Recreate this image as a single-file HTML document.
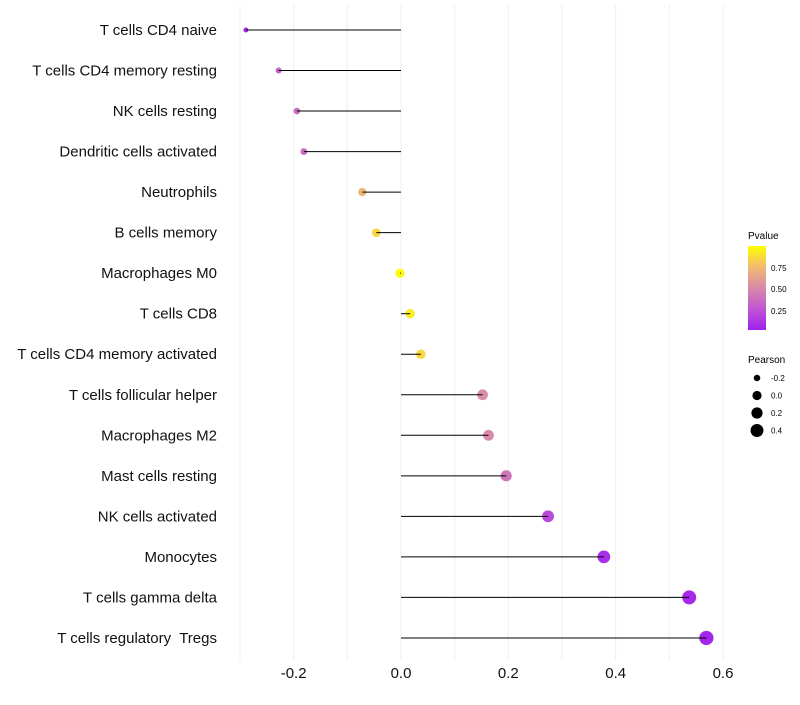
<!DOCTYPE html>
<html><head><meta charset="utf-8"><style>
body{margin:0;background:#fff;font-family:"Liberation Sans",sans-serif}
text{white-space:pre}
</style></head><body>
<svg id="chart" width="800" height="700" xmlns="http://www.w3.org/2000/svg" font-family="Liberation Sans, sans-serif">
<g id="grid"></g>
<g id="marks"></g>
<g id="ylabels"></g>
<g id="xlabels"></g>
<g>
<text x="748" y="239" font-size="10">Pvalue</text>
<defs><linearGradient id="pg" x1="0" y1="1" x2="0" y2="0">
<stop offset="0" stop-color="#A020F0"/><stop offset="0.25" stop-color="#C055D2"/><stop offset="0.5" stop-color="#D88AA8"/><stop offset="0.75" stop-color="#F2BA72"/><stop offset="1" stop-color="#FFFF00"/></linearGradient></defs>
<rect x="748" y="246" width="18" height="84" fill="url(#pg)"/>
<text x="771" y="271" font-size="8">0.75</text>
<text x="771" y="292" font-size="8">0.50</text>
<text x="771" y="314" font-size="8">0.25</text>
</g>
<g id="sizeleg">
<text x="748" y="363" font-size="10">Pearson</text>
</g>
</svg>
<script>
const categories=["T cells CD4 naive","T cells CD4 memory resting","NK cells resting","Dendritic cells activated","Neutrophils","B cells memory","Macrophages M0","T cells CD8","T cells CD4 memory activated","T cells follicular helper","Macrophages M2","Mast cells resting","NK cells activated","Monocytes","T cells gamma delta","T cells regulatory  Tregs"];
const pearson=[-0.289,-0.228,-0.194,-0.181,-0.072,-0.046,-0.002,0.017,0.037,0.152,0.163,0.196,0.274,0.378,0.537,0.569];
const pvalue=[0.04,0.3,0.36,0.36,0.72,0.85,0.99,0.93,0.86,0.52,0.5,0.4,0.2,0.07,0.04,0.03];
const xTicks=[-0.2,0,0.2,0.4,0.6];
const xTickLabels=["-0.2","0.0","0.2","0.4","0.6"];
const sizeLegendVals=[-0.2,0,0.2,0.4];
const sizeLegendLabels=["-0.2","0.0","0.2","0.4"];

const NS="http://www.w3.org/2000/svg";
const xs=v=>401+v*536.7;
const ys=i=>30+i*40.53;
const rs=v=>Math.sqrt(Math.max(1,21+52*v));
const stops=[[160,32,240],[192,85,210],[216,138,168],[242,186,114],[255,255,0]];
function col(p){let t=Math.max(0,Math.min(0.9999,p))*4;let k=Math.floor(t),u=t-k;const a=stops[k],b=stops[k+1];return `rgb(${a.map((x,j)=>Math.round(x+(b[j]-x)*u)).join(',')})`;}
function mk(t,at,parent){const e=document.createElementNS(NS,t);for(const k in at)e.setAttribute(k,at[k]);parent.appendChild(e);return e;}
const grid=document.getElementById('grid');
for(let v=-0.3;v<=0.61;v+=0.1){
  const g=mk('line',{x1:xs(v),x2:xs(v),y1:5,y2:660,stroke:'#efefef','stroke-width':1},grid);
  
  
}
const marks=document.getElementById('marks');
const yl=document.getElementById('ylabels');
categories.forEach((c,i)=>{
  const v=pearson[i];
  const pt=mk('circle',{cx:xs(v),cy:ys(i),r:rs(v),fill:col(pvalue[i])},marks);
  
  
  const ln=mk('line',{x1:xs(0),x2:xs(v),y1:ys(i),y2:ys(i),stroke:'#000','stroke-width':1},marks);
  
  
  const t=mk('text',{x:217,y:ys(i)+5,'text-anchor':'end','font-size':15,fill:'#111'},yl);
  t.textContent=c;
  
  
});
const xl=document.getElementById('xlabels');
xTicks.forEach((v,i)=>{
  const t=mk('text',{x:xs(v),y:678,'text-anchor':'middle','font-size':15,fill:'#111'},xl);
  t.textContent=xTickLabels[i];
  
  
});
const sl=document.getElementById('sizeleg');
sizeLegendVals.forEach((v,i)=>{
  const y=378+i*17.5;
  const c=mk('circle',{cx:757,cy:y,r:rs(v),fill:'#000'},sl);
  
  
  const t=mk('text',{x:771,y:y+3,'font-size':8},sl);
  t.textContent=sizeLegendLabels[i];
  
  
});
</script>
</body></html>
